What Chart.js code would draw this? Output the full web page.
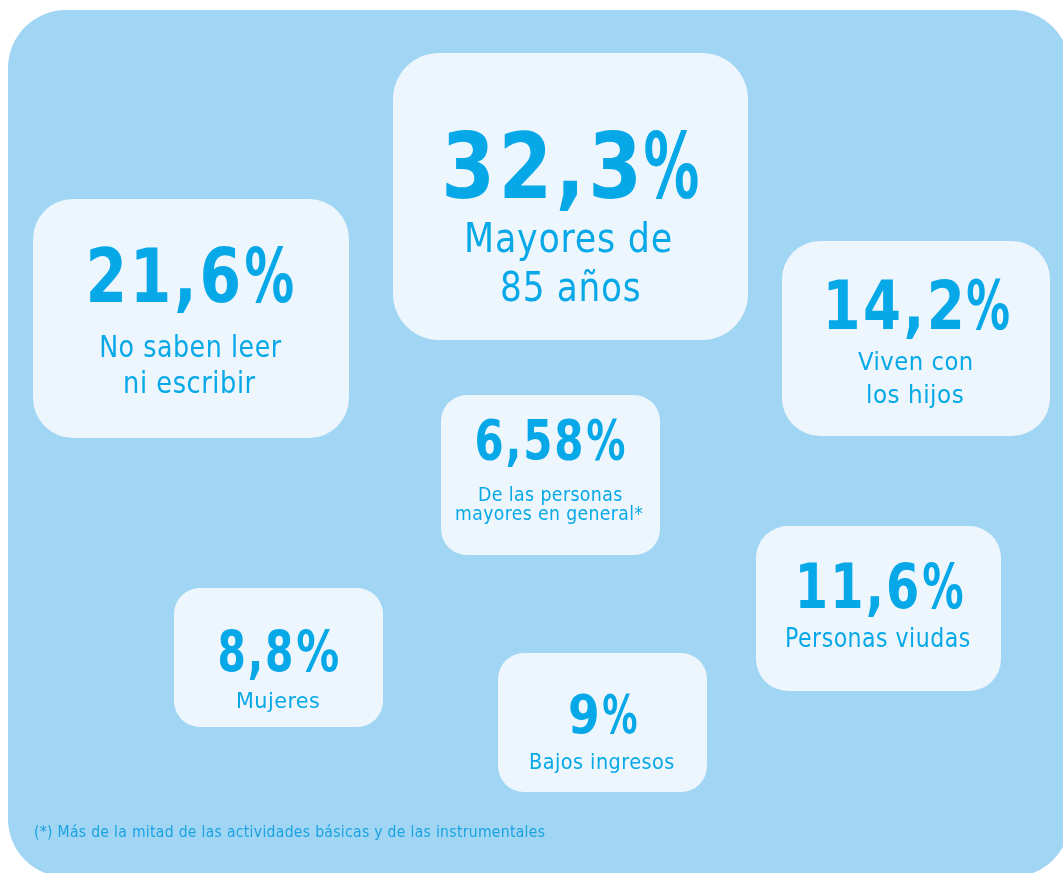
<!DOCTYPE html>
<html>
<head>
<meta charset="utf-8">
<script src="https://cdn.jsdelivr.net/npm/chart.js@4"></script>
<style>
  html, body { margin: 0; padding: 0; background: #ffffff; }
  #wrap { width: 1063px; height: 873px; position: relative; }
</style>
</head>
<body>
<div id="wrap"><canvas id="c"></canvas></div>
<script>
// ---- data ----
const values = [32.3, 21.6, 14.2, 6.58, 11.6, 8.8, 9];
const categories = [
  ['Mayores de', '85 años'],
  ['No saben leer', 'ni escribir'],
  ['Viven con', 'los hijos'],
  ['De las personas', 'mayores en general*'],
  ['Personas viudas'],
  ['Mujeres'],
  ['Bajos ingresos']
];
const footnote = '(*) Más de la mitad de las actividades básicas y de las instrumentales';

// ---- layout (positions / sizes, in scale units) ----
const boxes = [
  [393, 53, 748, 340],
  [33, 199, 349, 438],
  [782, 241, 1050, 436],
  [441, 395, 660, 555],
  [756, 526, 1001, 691],
  [174, 588, 383, 727],
  [498, 653, 707, 792]
];
const radii = [46, 40, 38, 26, 32, 26, 26];
// x0: left ink of number, xp: left ink of '%', x1: right ink of '%'
const numLayout = [
  {size: 90, base: 198, x0: 446, xp: 645, x1: 698},
  {size: 75, base: 302, x0: 90, xp: 246, x1: 293},
  {size: 67, base: 329, x0: 828, xp: 967, x1: 1009},
  {size: 55, base: 459, x0: 477, xp: 587, x1: 625},
  {size: 62, base: 608, x0: 800, xp: 923, x1: 963},
  {size: 57, base: 672, x0: 220, xp: 297, x1: 338},
  {size: 53, base: 733, x0: 570, xp: 603, x1: 637}
];
const lineLayout = [
  [{size: 40, base: 252, x0: 467, x1: 671}, {size: 40, base: 301, x0: 502, x1: 639}],
  [{size: 30, base: 357, x0: 101, x1: 282}, {size: 30, base: 393, x0: 125, x1: 256}],
  [{size: 25, base: 370, x0: 858, x1: 972}, {size: 25, base: 403, x0: 868, x1: 963}],
  [{size: 20, base: 501, x0: 479, x1: 622}, {size: 20, base: 520, x0: 456, x1: 643}],
  [{size: 26, base: 647, x0: 787, x1: 970}],
  [{size: 21, base: 708, x0: 237, x1: 319}],
  [{size: 22, base: 769, x0: 530, x1: 674}]
];
const footLayout = {size: 15, base: 837, x0: 35, x1: 545};
const panel = {x0: 8, y0: 10, x1: 1070, y1: 877, r: 58};

const FONT = "'DejaVu Sans Condensed', 'DejaVu Sans', sans-serif";
const TEXT_COLOR = '#06a8e8';
const PANEL_COLOR = '#a0d5f3';
const BOX_COLOR = '#eef6fd';

function fmtNum(v) { return String(v).replace('.', ','); }

function roundRect(ctx, x0, y0, x1, y1, r) {
  ctx.beginPath();
  ctx.moveTo(x0 + r, y0);
  ctx.lineTo(x1 - r, y0);
  ctx.arcTo(x1, y0, x1, y0 + r, r);
  ctx.lineTo(x1, y1 - r);
  ctx.arcTo(x1, y1, x1 - r, y1, r);
  ctx.lineTo(x0 + r, y1);
  ctx.arcTo(x0, y1, x0, y1 - r, r);
  ctx.lineTo(x0, y0 + r);
  ctx.arcTo(x0, y0, x0 + r, y0, r);
  ctx.closePath();
}

function fitText(ctx, text, px0, px1, base, font, spacing) {
  ctx.save();
  ctx.font = font;
  ctx.textAlign = 'left';
  ctx.textBaseline = 'alphabetic';
  if ('letterSpacing' in ctx) ctx.letterSpacing = (spacing || 0) + 'px';
  const m = ctx.measureText(text);
  const inkW = m.actualBoundingBoxLeft + m.actualBoundingBoxRight;
  const s = (px1 - px0) / inkW;
  ctx.translate(px0, base);
  ctx.scale(s, 1);
  ctx.fillText(text, m.actualBoundingBoxLeft, 0);
  ctx.restore();
}

const infographic = {
  id: 'infographic',
  beforeDatasetsDraw(chart) {
    const ctx = chart.ctx;
    const xs = chart.scales.x, ys = chart.scales.y;
    const X = v => xs.getPixelForValue(v), Y = v => ys.getPixelForValue(v);
    ctx.save();
    ctx.fillStyle = PANEL_COLOR;
    roundRect(ctx, X(panel.x0), Y(panel.y0), X(panel.x1), Y(panel.y1), panel.r);
    ctx.fill();
    ctx.restore();
  },
  afterDatasetsDraw(chart) {
    const ctx = chart.ctx;
    const xs = chart.scales.x, ys = chart.scales.y;
    const X = v => xs.getPixelForValue(v), Y = v => ys.getPixelForValue(v);
    const meta = chart.getDatasetMeta(0);
    meta.data.forEach((el, i) => {
      const b = boxes[i];
      ctx.save();
      ctx.fillStyle = BOX_COLOR;
      roundRect(ctx, X(b[0]), Y(b[1]), X(b[2]), Y(b[3]), radii[i]);
      ctx.fill();
      ctx.fillStyle = TEXT_COLOR;
      const n = numLayout[i];
      const nf = 'bold ' + n.size + 'px ' + FONT;
      const gap = n.size * 0.1;
      fitText(ctx, fmtNum(values[i]), X(n.x0), X(n.xp - gap), Y(n.base), nf, n.size * 0.04);
      fitText(ctx, '%', X(n.xp), X(n.x1), Y(n.base), nf, 0);
      categories[i].forEach((line, j) => {
        const l = lineLayout[i][j];
        fitText(ctx, line, X(l.x0), X(l.x1), Y(l.base), l.size + 'px ' + FONT, l.size * 0.02);
      });
      ctx.restore();
    });
    ctx.save();
    ctx.fillStyle = '#1aa3e2';
    fitText(ctx, footnote, X(footLayout.x0), X(footLayout.x1), Y(footLayout.base), footLayout.size + 'px ' + FONT, 0.3);
    ctx.restore();
  }
};

new Chart(document.getElementById('c'), {
  type: 'scatter',
  data: {
    labels: categories.map(c => c.join(' ')),
    datasets: [{
      data: values.map((v, i) => ({ x: (boxes[i][0] + boxes[i][2]) / 2, y: (boxes[i][1] + boxes[i][3]) / 2, v })),
      pointRadius: 0,
      pointHoverRadius: 0
    }]
  },
  options: {
    responsive: true,
    maintainAspectRatio: false,
    animation: false,
    events: [],
    layout: { padding: 0 },
    plugins: { legend: { display: false }, tooltip: { enabled: false }, title: { display: false } },
    scales: {
      x: { type: 'linear', min: 0, max: 1063, display: false },
      y: { type: 'linear', min: 0, max: 873, reverse: true, display: false }
    }
  },
  plugins: [infographic]
});
</script>
</body>
</html>
